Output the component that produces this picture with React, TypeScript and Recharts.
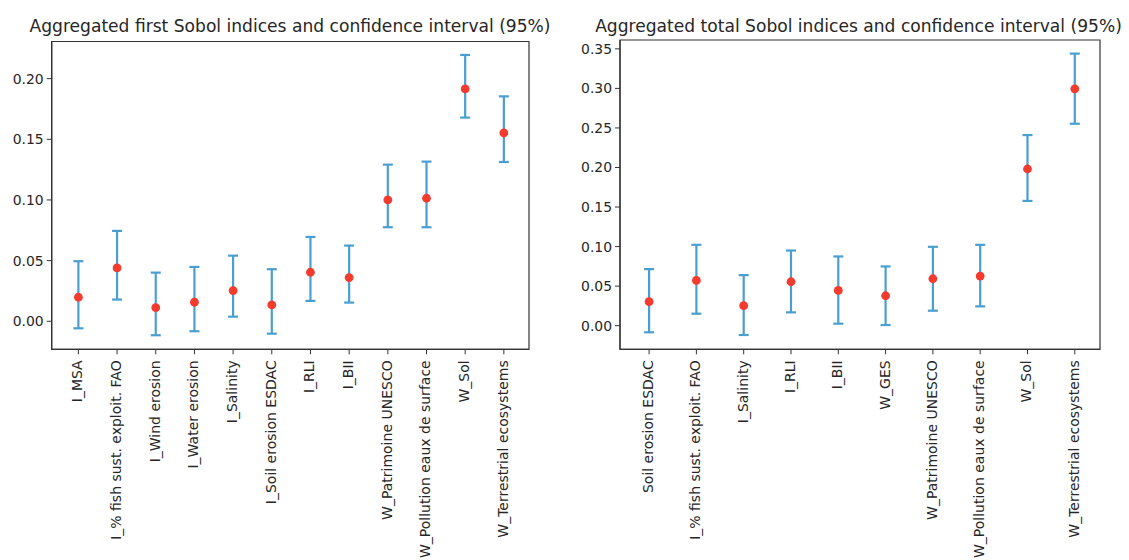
import React from 'react';
import { ScatterChart, Scatter, XAxis, YAxis, ErrorBar, ReferenceArea } from 'recharts';

const firstLabels = [
  'I_MSA',
  'I_% fish sust. exploit. FAO',
  'I_Wind erosion',
  'I_Water erosion',
  'I_Salinity',
  'I_Soil erosion ESDAC',
  'I_RLI',
  'I_BII',
  'W_Patrimoine UNESCO',
  'W_Pollution eaux de surface',
  'W_Sol',
  'W_Terrestrial ecosystems',
];
const firstValues = [0.0198, 0.044, 0.0113, 0.0157, 0.0253, 0.0135, 0.0404, 0.036, 0.1, 0.1014, 0.1915, 0.1552];
const firstLower = [-0.0058, 0.0179, -0.0115, -0.0082, 0.0038, -0.0102, 0.0168, 0.0154, 0.0775, 0.0775, 0.1679, 0.1313];
const firstUpper = [0.0495, 0.0745, 0.0401, 0.0448, 0.0541, 0.0429, 0.0695, 0.0624, 0.1291, 0.1316, 0.2195, 0.1854];
const firstTicks = [0, 0.05, 0.1, 0.15, 0.2];

const totalLabels = [
  'Soil erosion ESDAC',
  'I_% fish sust. exploit. FAO',
  'I_Salinity',
  'I_RLI',
  'I_BII',
  'W_GES',
  'W_Patrimoine UNESCO',
  'W_Pollution eaux de surface',
  'W_Sol',
  'W_Terrestrial ecosystems',
];
const totalValues = [0.0303, 0.0572, 0.0252, 0.0555, 0.0446, 0.0378, 0.0593, 0.0627, 0.1981, 0.2994];
const totalLower = [-0.0084, 0.0151, -0.0118, 0.0168, 0.0025, 0.0008, 0.0189, 0.0244, 0.1577, 0.2553];
const totalUpper = [0.0715, 0.1022, 0.0639, 0.095, 0.0875, 0.0749, 0.0997, 0.1022, 0.241, 0.344];
const totalTicks = [0, 0.05, 0.1, 0.15, 0.2, 0.25, 0.3, 0.35];

const FONT = '"DejaVu Sans", sans-serif';
const TEXT = '#262626';
const SPINE = '#333333';
const BLUE = '#4a9fd0';
const RED = '#f53a2e';

function buildRows(values: number[], lower: number[], upper: number[]) {
  return values.map((v, i) => ({ x: i, y: v, err: [v - lower[i], upper[i] - v] }));
}

function makeTick(labels: string[]) {
  return (props: any) => {
    const { x, y, payload } = props;
    return (
      <text
        transform={`translate(${x},${y}) rotate(-90)`}
        textAnchor="end"
        dy="0.28em"
        fontSize={14}
        fontFamily={FONT}
        fill={TEXT}
      >
        {labels[payload.value]}
      </text>
    );
  };
}

const Dot = (props: any) => <circle cx={props.cx} cy={props.cy} r={4.4} fill={RED} />;

type PanelProps = {
  left: number;
  width: number;
  yAxisWidth: number;
  marginTop: number;
  marginRight: number;
  labels: string[];
  values: number[];
  lower: number[];
  upper: number[];
  xDomain: [number, number];
  yDomain: [number, number];
  yTicks: number[];
  title: string;
  titleCenter: number;
};

function Panel(p: PanelProps) {
  const rows = buildRows(p.values, p.lower, p.upper);
  const xTicks = p.labels.map((_, i) => i);
  const xAxisHeight = 560 - 349.3;
  return (
    <>
      <div
        style={{
          position: 'absolute',
          left: p.titleCenter,
          top: 17.5,
          transform: 'translateX(-50%)',
          fontFamily: FONT,
          fontSize: 17.1,
          lineHeight: '17.1px',
          color: TEXT,
          whiteSpace: 'nowrap',
        }}
      >
        {p.title}
      </div>
      <div style={{ position: 'absolute', left: p.left, top: 0 }}>
        <ScatterChart
          width={p.width}
          height={560}
          margin={{ top: p.marginTop, right: p.marginRight, bottom: 0, left: 0 }}
        >
          <XAxis
            type="number"
            dataKey="x"
            domain={p.xDomain}
            ticks={xTicks}
            interval={0}
            allowDataOverflow
            height={xAxisHeight}
            tickSize={5}
            tickMargin={6}
            axisLine={{ stroke: SPINE, strokeWidth: 1.2 }}
            tickLine={{ stroke: SPINE, strokeWidth: 1 }}
            tick={makeTick(p.labels)}
          />
          <YAxis
            type="number"
            dataKey="y"
            domain={p.yDomain}
            ticks={p.yTicks}
            interval={0}
            allowDataOverflow
            width={p.yAxisWidth}
            tickSize={5}
            tickMargin={3}
            axisLine={{ stroke: SPINE, strokeWidth: 1.2 }}
            tickLine={{ stroke: SPINE, strokeWidth: 1 }}
            tick={{ fontSize: 13.9, fontFamily: FONT, fill: TEXT }}
            tickFormatter={(v: number) => v.toFixed(2)}
          />
          <ReferenceArea
            x1={p.xDomain[0]}
            x2={p.xDomain[1]}
            y1={p.yDomain[0]}
            y2={p.yDomain[1]}
            fill="none"
            fillOpacity={0}
            stroke={SPINE}
            strokeWidth={1.2}
            strokeOpacity={1}
            ifOverflow="extendDomain"
          />
          <Scatter data={rows} shape={Dot} isAnimationActive={false}>
            <ErrorBar
              dataKey="err"
              direction="y"
              width={5}
              stroke={BLUE}
              strokeWidth={2.2}
              isAnimationActive={false}
            />
          </Scatter>
        </ScatterChart>
      </div>
    </>
  );
}

export default function App() {
  return (
    <div style={{ position: 'absolute', left: 0, top: 0, width: 1129, height: 560, background: '#fff' }}>
      <Panel
        left={0}
        width={560}
        yAxisWidth={51.7}
        marginTop={41.5}
        marginRight={31}
        labels={firstLabels}
        values={firstValues}
        lower={firstLower}
        upper={firstUpper}
        xDomain={[-0.69, 11.65]}
        yDomain={[-0.0231, 0.2306]}
        yTicks={firstTicks}
        title="Aggregated first Sobol indices and confidence interval (95%)"
        titleCenter={290}
      />
      <Panel
        left={560}
        width={569}
        yAxisWidth={60}
        marginTop={40}
        marginRight={29}
        labels={totalLabels}
        values={totalValues}
        lower={totalLower}
        upper={totalUpper}
        xDomain={[-0.615, 9.533]}
        yDomain={[-0.0299, 0.3612]}
        yTicks={totalTicks}
        title="Aggregated total Sobol indices and confidence interval (95%)"
        titleCenter={858.5}
      />
    </div>
  );
}
